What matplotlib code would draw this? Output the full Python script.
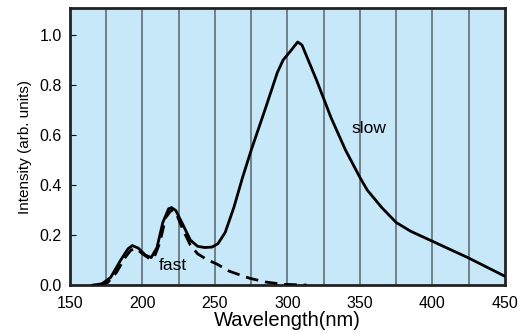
import matplotlib
matplotlib.use("Agg")
from matplotlib import pyplot as plt

# slow component
slow_nm = [166, 172, 178, 185, 190, 193, 197, 202, 206, 210, 214, 218, 220, 223, 228, 233, 238, 243,
           248, 252, 257, 263, 269, 275, 285, 293, 297, 302, 307, 310, 320, 330, 340, 350, 355, 365,
           375, 385, 400, 425, 450]
slow_int = [0.0, 0.005, 0.03, 0.10, 0.145, 0.158, 0.148, 0.12, 0.11, 0.15, 0.25, 0.305, 0.31, 0.298,
            0.24, 0.18, 0.155, 0.15, 0.152, 0.165, 0.21, 0.31, 0.43, 0.54, 0.71, 0.85, 0.9, 0.935,
            0.972, 0.96, 0.82, 0.67, 0.54, 0.43, 0.38, 0.31, 0.25, 0.215, 0.175, 0.108, 0.035]

# fast component
fast_nm = [170, 176, 182, 188, 192, 196, 200, 205, 208, 212, 216, 220, 223, 228, 233, 238, 245, 251,
           260, 274, 285, 297, 313]
fast_int = [0.0, 0.01, 0.05, 0.11, 0.14, 0.145, 0.125, 0.105, 0.11, 0.17, 0.27, 0.30, 0.29, 0.22,
            0.16, 0.125, 0.10, 0.085, 0.055, 0.027, 0.012, 0.003, 0.0]

xticks = [150, 200, 250, 300, 350, 400, 450]
yticks = [0.0, 0.2, 0.4, 0.6, 0.8, 1.0]

plt.rcParams['font.family'] = ['Liberation Sans', 'DejaVu Sans']

fig = plt.figure(figsize=(5.29, 3.33), dpi=100)
ax = fig.add_axes([0.1323, 0.144, 0.8223, 0.832])
ax.set_facecolor('#c7e8f8')

for x in range(175, 450, 25):
    ax.axvline(x, color='#6b7880', lw=1.3, zorder=1)

ax.plot(slow_nm, slow_int, color='black', lw=2.0, zorder=3, solid_joinstyle='round')
ax.plot(fast_nm, fast_int, color='black', lw=2.0, ls=(0, (4.5, 2.5)), zorder=3)

ax.text(344, 0.628, 'slow', fontsize=12.5, va='center', ha='left')
ax.text(211, 0.08, 'fast', fontsize=12.5, va='center', ha='left')

ax.set_xlim(150, 450)
ax.set_ylim(0, 1.108)
ax.set_xticks(xticks)
ax.set_yticks(yticks)
ax.set_yticklabels(['%.1f' % v for v in yticks])
ax.tick_params(axis='x', length=0, labelsize=11.5, pad=8)
ax.tick_params(axis='y', direction='in', length=4, labelsize=11.5, pad=6)
for s in ax.spines.values():
    s.set_linewidth(2.0)
    s.set_color('#222222')

ax.set_xlabel('Wavelength(nm)', fontsize=14.5, labelpad=0)
ax.set_ylabel('Intensity (arb. units)', fontsize=11, labelpad=5)

fig.savefig('out.png', dpi=100)
